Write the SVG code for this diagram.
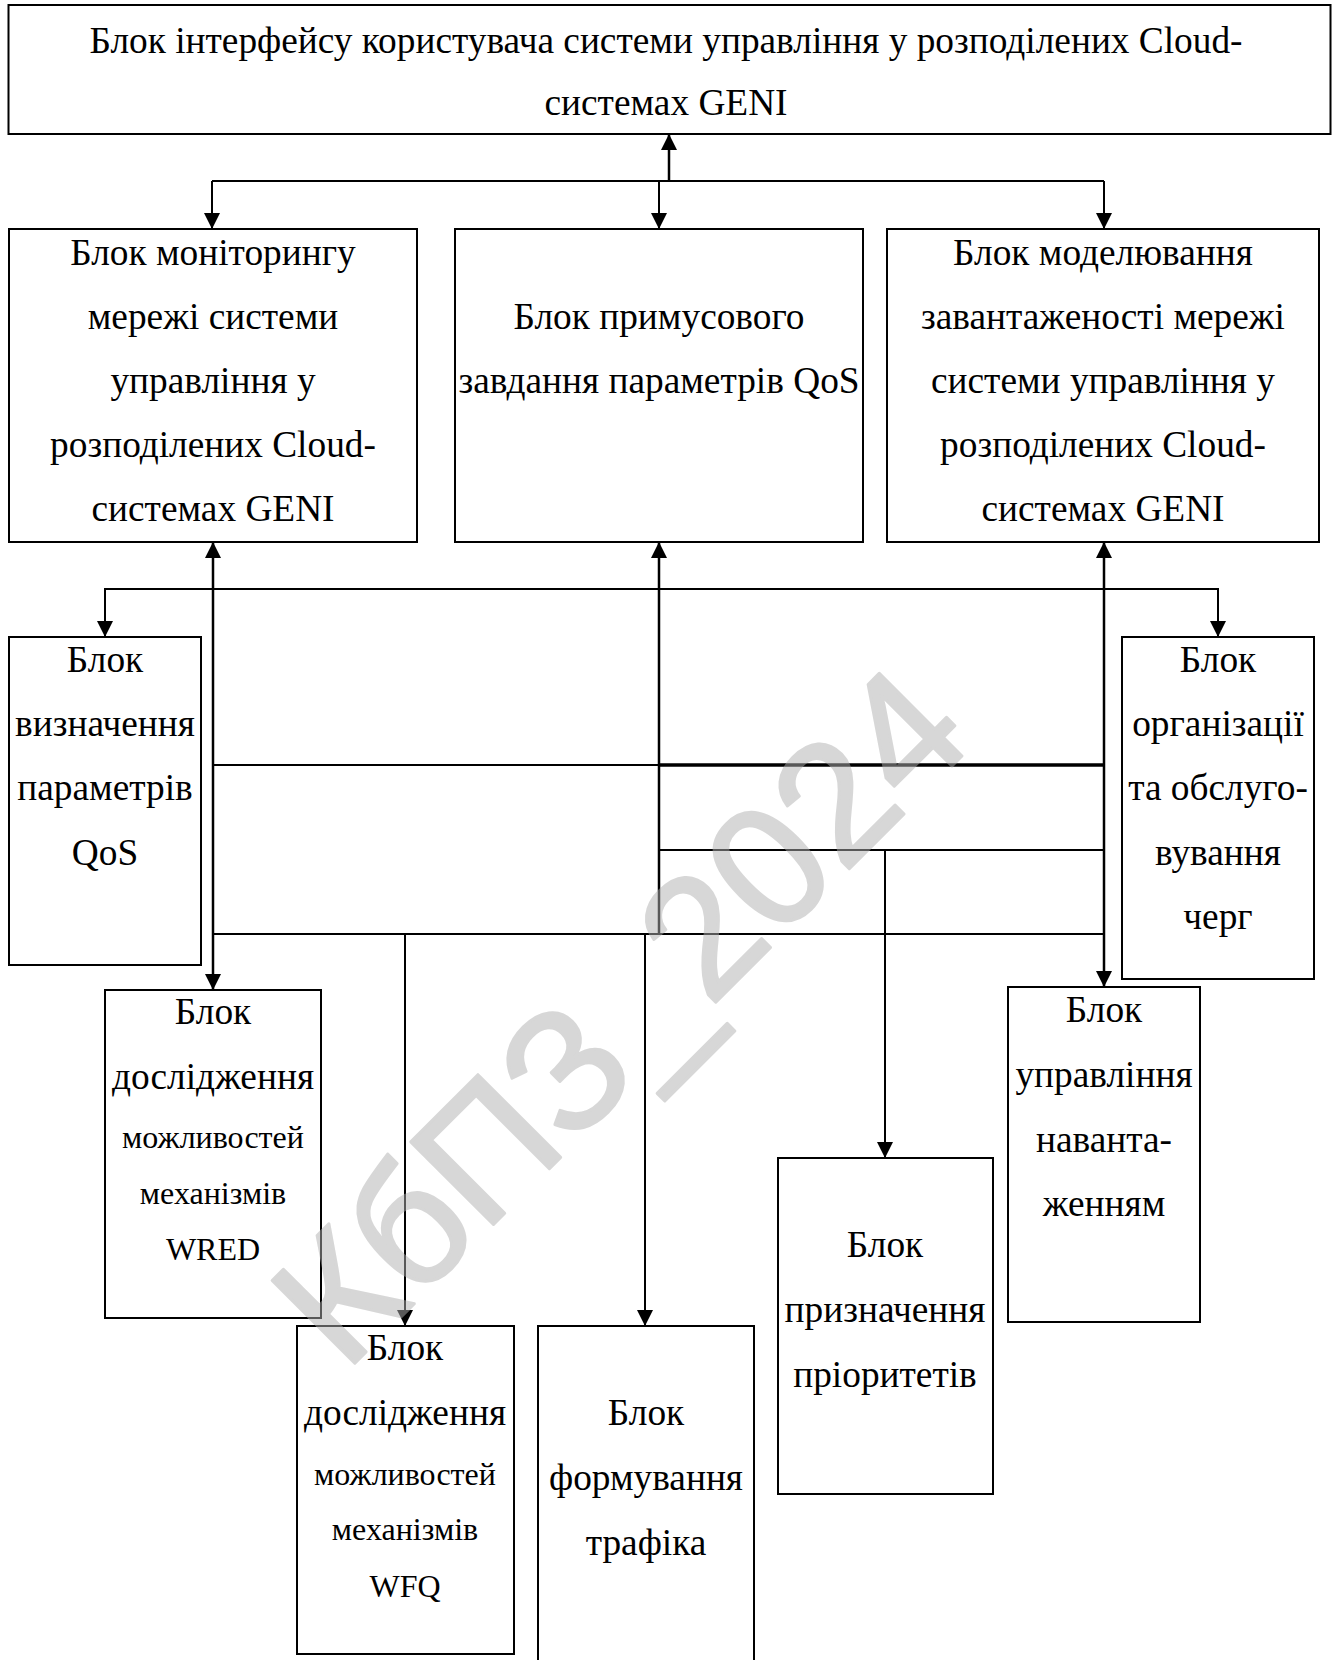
<svg xmlns="http://www.w3.org/2000/svg" width="1337" height="1660" viewBox="0 0 1337 1660">
<style>
.box{fill:#fff;stroke:#000;stroke-width:2}
.t{font-family:"Liberation Serif","Times New Roman",serif;font-size:37.33px;fill:#000;text-anchor:middle}
.s{font-size:32px}
.c{fill:none;stroke:#000;stroke-width:2}
.wm{font-family:"Liberation Sans",Arial,sans-serif;font-size:170px;fill:#b0b0b0;stroke:#b0b0b0;stroke-width:3;stroke-linejoin:round;text-anchor:middle}
</style>
<defs>
<marker id="ar" markerUnits="userSpaceOnUse" markerWidth="16" markerHeight="16" refX="16" refY="8" orient="auto-start-reverse" viewBox="0 0 16 16">
<path d="M0,0 L16,8 L0,16 z" fill="#000"/>
</marker>
</defs>
<rect width="1337" height="1660" fill="#fff"/>
<g id="connectors">
<path class="c" style="stroke-width:2.5" d="M669,181 V134" marker-end="url(#ar)"/>
<path class="c" d="M212,181 H1104"/>
<path class="c" d="M212,181 V229" marker-end="url(#ar)"/>
<path class="c" d="M659,181 V229" marker-end="url(#ar)"/>
<path class="c" d="M1104,181 V229" marker-end="url(#ar)"/>
<path class="c" style="stroke-width:2.5" d="M213,542 V990" marker-start="url(#ar)" marker-end="url(#ar)"/>
<path class="c" style="stroke-width:2.5" d="M659,934 V542" marker-end="url(#ar)"/>
<path class="c" style="stroke-width:2.5" d="M1104,542 V987" marker-start="url(#ar)" marker-end="url(#ar)"/>
<path class="c" d="M105,637 V589 H1218 V637" marker-start="url(#ar)" marker-end="url(#ar)"/>
<path class="c" d="M213,765 H1104"/>
<path class="c" style="stroke-width:3.5" d="M659,765 H1104"/>
<path class="c" d="M659,850 H1104"/>
<path class="c" d="M213,934 H1104"/>
<path class="c" d="M405,934 V1326" marker-end="url(#ar)"/>
<path class="c" d="M645,934 V1326" marker-end="url(#ar)"/>
<path class="c" d="M885,850 V1158" marker-end="url(#ar)"/>
</g>
<g id="n-ui">
<rect class="box" x="8.5" y="5" width="1322" height="129"/>
<text class="t" x="666" y="53">Блок інтерфейсу користувача системи управління у розподілених Cloud-</text>
<text class="t" x="666" y="115">системах GENI</text>
</g>
<g id="n-monitor">
<rect class="box" x="9" y="229" width="408" height="313"/>
<text class="t" x="213" y="265">Блок моніторингу</text>
<text class="t" x="213" y="329">мережі системи</text>
<text class="t" x="213" y="393">управління у</text>
<text class="t" x="213" y="457">розподілених Cloud-</text>
<text class="t" x="213" y="521">системах GENI</text>
</g>
<g id="n-qos-force">
<rect class="box" x="455" y="229" width="408" height="313"/>
<text class="t" x="659" y="329">Блок примусового</text>
<text class="t" x="659" y="393">завдання параметрів QoS</text>
</g>
<g id="n-model">
<rect class="box" x="887" y="229" width="432" height="313"/>
<text class="t" x="1103" y="265">Блок моделювання</text>
<text class="t" x="1103" y="329">завантаженості мережі</text>
<text class="t" x="1103" y="393">системи управління у</text>
<text class="t" x="1103" y="457">розподілених Cloud-</text>
<text class="t" x="1103" y="521">системах GENI</text>
</g>
<g id="n-qos-def">
<rect class="box" x="9" y="637" width="192" height="328"/>
<text class="t" x="105" y="672">Блок</text>
<text class="t" x="105" y="736">визначення</text>
<text class="t" x="105" y="800">параметрів</text>
<text class="t" x="105" y="865">QoS</text>
</g>
<g id="n-queues">
<rect class="box" x="1122" y="637" width="192" height="342"/>
<text class="t" x="1218" y="672">Блок</text>
<text class="t" x="1218" y="736">організації</text>
<text class="t" x="1218" y="800">та обслуго-</text>
<text class="t" x="1218" y="865">вування</text>
<text class="t" x="1218" y="929">черг</text>
</g>
<g id="n-wred">
<rect class="box" x="105" y="990" width="216" height="328"/>
<text class="t" x="213" y="1024">Блок</text>
<text class="t" x="213" y="1089">дослідження</text>
<text class="t s" x="213" y="1148">можливостей</text>
<text class="t s" x="213" y="1204">механізмів</text>
<text class="t s" x="213" y="1260">WRED</text>
</g>
<g id="n-load">
<rect class="box" x="1008" y="987" width="192" height="335"/>
<text class="t" x="1104" y="1022">Блок</text>
<text class="t" x="1104" y="1087">управління</text>
<text class="t" x="1104" y="1152">наванта-</text>
<text class="t" x="1104" y="1216">женням</text>
</g>
<g id="n-priority">
<rect class="box" x="778" y="1158" width="215" height="336"/>
<text class="t" x="885" y="1257">Блок</text>
<text class="t" x="885" y="1322">призначення</text>
<text class="t" x="885" y="1387">пріоритетів</text>
</g>
<g id="n-wfq">
<rect class="box" x="297" y="1326" width="217" height="328"/>
<text class="t" x="405" y="1360">Блок</text>
<text class="t" x="405" y="1425">дослідження</text>
<text class="t s" x="405" y="1485">можливостей</text>
<text class="t s" x="405" y="1540">механізмів</text>
<text class="t s" x="405" y="1597">WFQ</text>
</g>
<g id="n-shaping">
<rect class="box" x="538" y="1326" width="216" height="345"/>
<text class="t" x="646" y="1425">Блок</text>
<text class="t" x="646" y="1490">формування</text>
<text class="t" x="646" y="1555">трафіка</text>
</g>
<g id="watermark" opacity="0.5">
<text class="wm" transform="translate(661,1057) rotate(-45)" x="0" y="0">КбПЗ_2024</text>
</g>
</svg>
